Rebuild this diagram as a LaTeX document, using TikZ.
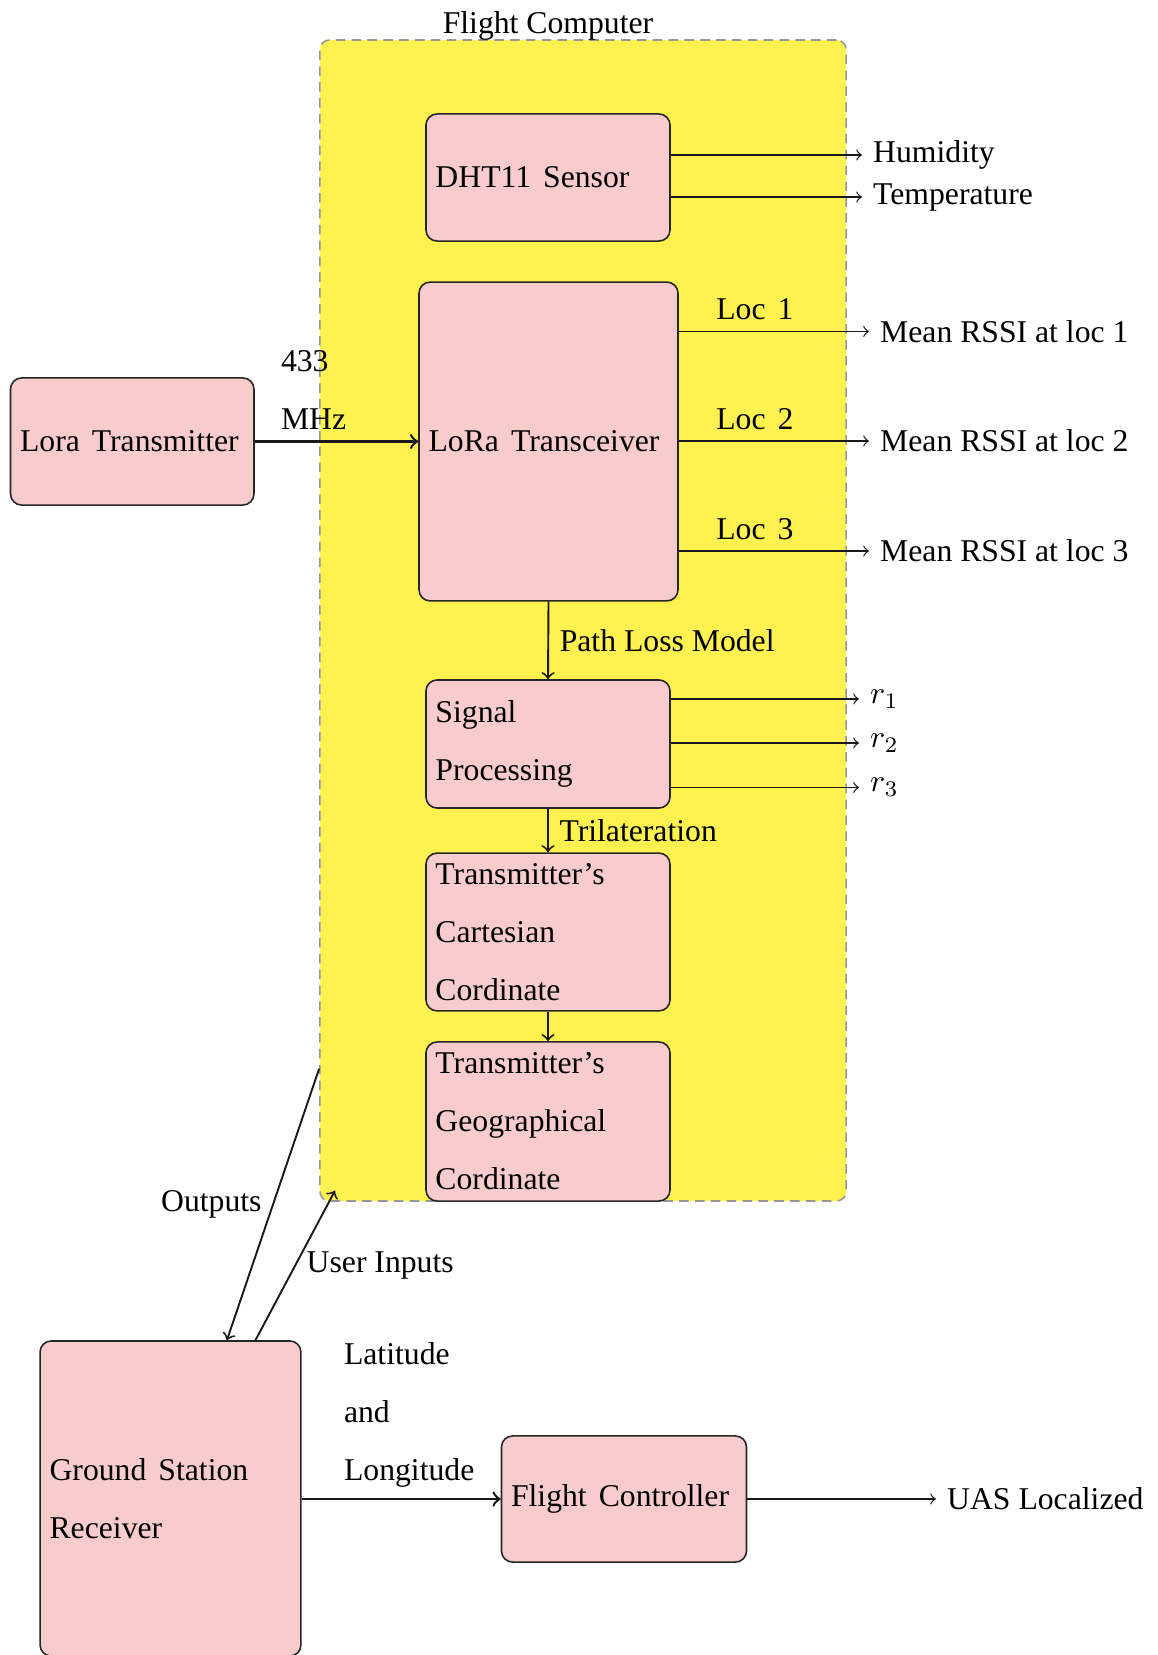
\documentclass[tikz,border=0pt]{standalone}
\usepackage{fontspec}
\setmainfont{Liberation Serif}

\definecolor{boxpink}{RGB}{248,204,204}
\definecolor{fcyellow}{RGB}{255,242,80}
\definecolor{fcborder}{RGB}{150,150,150}

\protected\def\wordgap{\spaceskip=0.38em\relax}

\begin{document}
\begin{tikzpicture}[x=0.3155pt, y=-0.3155pt,
  every node/.style={font=\fontsize{10pt}{18.3pt}\selectfont, text=black},
  wide/.style={execute at begin node=\wordgap},
  block/.style={wide, draw=black!85, fill=boxpink, rounded corners=3.5pt,
    line width=0.5pt, align=left, inner xsep=3pt, inner ysep=0pt},
  computer/.style={fill=fcyellow, draw=fcborder, dash pattern=on 3pt off 2pt,
    rounded corners=3pt, line width=0.5pt, inner sep=0pt},
  thinarrow/.style={->, line width=0.4pt, draw=black!90},
  midarrow/.style={->, line width=0.6pt, draw=black!90},
  bigarrow/.style={->, line width=0.8pt, draw=black!90},
]
\useasboundingbox (0,0) rectangle (1157,1655);

% flight computer enclosure
\node[computer, minimum width=166pt, minimum height=366.3pt] (fc) at (583,620.5) {};
\node (fctitle) at (548,25.5) {Flight Computer};

% blocks
\node[block, minimum width=77pt, minimum height=40.1pt, text width=71pt] (dht) at (548,177.5) {DHT11 Sensor};
\node[block, minimum width=81.7pt, minimum height=100.6pt, text width=75.7pt] (trx) at (548.5,441.5) {LoRa Transceiver};
\node[block, minimum width=76.8pt, minimum height=40.1pt, text width=70.8pt] (tx) at (132.25,441.5) {Lora Transmitter};
\node[block, minimum width=77pt, minimum height=40.4pt, text width=71pt] (sp) at (548,744) {Signal\\Processing};
\node[block, minimum width=77pt, minimum height=49.8pt, text width=71pt] (cart) at (548,932) {Transmitter's\\Cartesian\\Cordinate};
\node[block, minimum width=77pt, minimum height=50.2pt, text width=71pt] (geo) at (548,1121.5) {Transmitter's\\Geographical\\Cordinate};
\node[block, minimum width=82.3pt, minimum height=99.4pt, text width=76.3pt] (gs) at (170.5,1498.5) {Ground Station\\Receiver};
\node[block, minimum width=77.3pt, minimum height=39.8pt, text width=71.3pt] (fcl) at (624,1499) {Flight Controller};

% output labels
\node[anchor=west] (hum) at (862,155) {Humidity};
\node[anchor=west] (temp) at (862,197) {Temperature};
\node[anchor=west] (rssi1) at (869,331.5) {Mean RSSI at loc 1};
\node[anchor=west] (rssi2) at (869,441) {Mean RSSI at loc 2};
\node[anchor=west] (rssi3) at (869,551) {Mean RSSI at loc 3};
\node[anchor=west] (r1) at (859,699) {$r_1$};
\node[anchor=west] (r2) at (859,743) {$r_2$};
\node[anchor=west] (r3) at (859,787.5) {$r_3$};
\node[anchor=west] (uas) at (936,1499) {UAS Localized};

% sensor outputs
\draw[thinarrow] (dht.east |- hum.west) -- (hum.west);
\draw[thinarrow] (dht.east |- temp.west) -- (temp.west);

% RSSI outputs
\draw[thinarrow] (trx.east |- rssi1.west) -- node[wide, above, pos=0.4] {Loc 1} (rssi1.west);
\draw[thinarrow] (trx.east |- rssi2.west) -- node[wide, above, pos=0.4] {Loc 2} (rssi2.west);
\draw[thinarrow] (trx.east |- rssi3.west) -- node[wide, above, pos=0.4] {Loc 3} (rssi3.west);

% ranges
\draw[thinarrow] (sp.east |- r1.west) -- (r1.west);
\draw[thinarrow] (sp.east |- r2.west) -- (r2.west);
\draw[thinarrow] (sp.east |- r3.west) -- (r3.west);

% processing chain
\draw[bigarrow] (tx.east) -- node[above, pos=0.36, align=left] {433\\MHz} (trx.west);
\draw[midarrow] (trx.south) -- node[right] {Path Loss Model} (sp.north);
\draw[midarrow] (sp.south) -- node[right] {Trilateration} (cart.north);
\draw[midarrow] (cart.south) -- (geo.north);

% ground link
\draw[midarrow] ([yshift=42pt]fc.south west) -- node[left] {Outputs} ([xshift=17.8pt]gs.north);
\draw[midarrow] ([xshift=26.8pt]gs.north) -- node[right] {User Inputs} ([xshift=5pt,yshift=3.5pt]fc.south west);

% flight controller
\draw[bigarrow] (gs.east |- fcl.west) -- node[above, pos=0.54, align=left] {Latitude\\and\\Longitude} (fcl.west);
\draw[thinarrow] (fcl.east) -- (uas.west);
\end{tikzpicture}
\end{document}
